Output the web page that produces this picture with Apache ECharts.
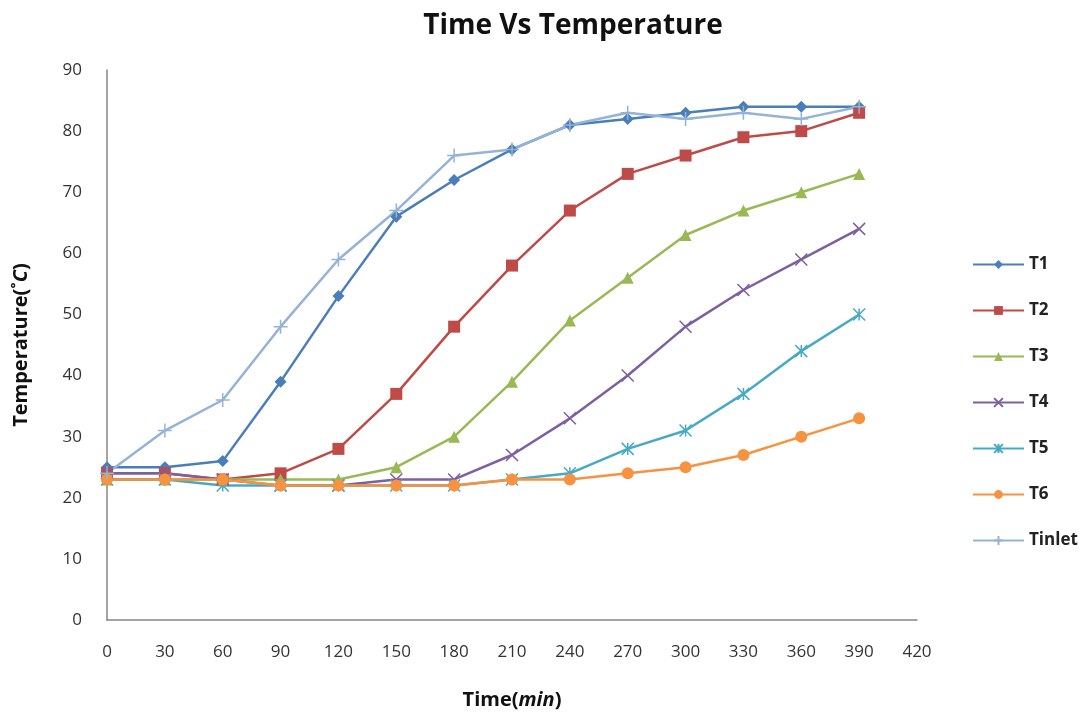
<!DOCTYPE html>
<html><head><meta charset="utf-8">
<script src="https://cdn.jsdelivr.net/npm/echarts@6/dist/echarts.min.js"></script>
<style>html,body{margin:0;padding:0;background:#fff}#c{width:1088px;height:715px}</style>
</head><body><div id="c"></div>
<script>
const times = [0,30,60,90,120,150,180,210,240,270,300,330,360,390];
const T1 = [25,25,26,39,53,66,72,77,81,82,83,84,84,84];
const T2 = [24,24,23,24,28,37,48,58,67,73,76,79,80,83];
const T3 = [23,23,23,23,23,25,30,39,49,56,63,67,70,73];
const T4 = [24,24,23,22,22,23,23,27,33,40,48,54,59,64];
const T5 = [23,23,22,22,22,22,22,23,24,28,31,37,44,50];
const T6 = [23,23,23,22,22,22,22,23,23,24,25,27,30,33];
const Tinlet = [24,31,36,48,59,67,76,77,81,83,82,83,82,84];
const seriesNames = ['T1','T2','T3','T4','T5','T6','Tinlet'];
const yTicks = {min:0,max:90,interval:10};
const xTicks = {min:0,max:420,interval:30};

const FONT = '"Open Sans", "DejaVu Sans", sans-serif';
const X_PATH = 'path://M0,0 L10,10 M10,0 L0,10';
const AST_PATH = 'path://M0,0 L10,10 M10,0 L0,10 M5,0 L5,10';
const PLUS_PATH = 'path://M5,0 L5,10 M0,5 L10,5';

const styles = [
  {color:'#4A7EBB', symbol:'diamond', size:12},
  {color:'#BE4B48', symbol:'rect', size:12},
  {color:'#98B954', symbol:'triangle', size:12},
  {color:'#7D60A0', symbol:X_PATH, size:12, stroke:true},
  {color:'#46AAC5', symbol:AST_PATH, size:12, stroke:true},
  {color:'#F69240', symbol:'circle', size:12},
  {color:'#95B3D7', symbol:PLUS_PATH, size:14, stroke:true}
];
const values = [T1,T2,T3,T4,T5,T6,Tinlet];

const series = seriesNames.map((n,i)=>{
  const s = styles[i];
  return {
    name:n, type:'line',
    data: times.map((t,j)=>[t, values[i][j]]),
    symbol: s.symbol, symbolSize: s.size,
    lineStyle:{color:s.color, width:2.5},
    itemStyle: s.stroke ? {color:'rgba(0,0,0,0)', borderColor:s.color, borderWidth:1.5}
                        : {color:s.color, borderColor:s.color, borderWidth:0},
    emphasis:{disabled:true},
    animation:false
  };
});

const chart = echarts.init(document.getElementById('c'));
chart.setOption({
  animation:false,
  color: styles.map(s=>s.color),
  title:{text:'Time Vs Temperature', left:568, textAlign:'center', top:7,
    textStyle:{fontFamily:FONT, fontWeight:'bold', fontSize:28, color:'#111'}},
  legend:{orient:'vertical', left:967, top:251, itemGap:29, itemWidth:51, itemHeight:11,
    textStyle:{fontFamily:FONT, fontSize:17, fontWeight:'bold', color:'#222'},
    data: seriesNames},
  grid:{left:107, right:171, top:70, bottom:94, containLabel:false},
  xAxis:{type:'value', min:xTicks.min, max:xTicks.max, interval:xTicks.interval,
    name:'{a|Time(}{b|min}{a|)}', nameLocation:'middle', nameGap:70,
    nameTextStyle:{rich:{a:{fontFamily:FONT,fontWeight:'bold',fontSize:20,color:'#111'},
                         b:{fontFamily:FONT,fontWeight:'bold',fontStyle:'italic',fontSize:20,color:'#111'}}},
    axisLine:{lineStyle:{color:'#868686', width:1.5}},
    axisTick:{show:false},
    splitLine:{show:false},
    axisLabel:{fontFamily:FONT, fontSize:17, color:'#333', margin:24}},
  yAxis:{type:'value', min:yTicks.min, max:yTicks.max, interval:yTicks.interval,
    name:'{a|Temperature(˚}{b|C}{a|)}', nameLocation:'middle', nameGap:76, nameRotate:90,
    nameTextStyle:{rich:{a:{fontFamily:FONT,fontWeight:'bold',fontSize:20,color:'#111'},
                         b:{fontFamily:FONT,fontWeight:'bold',fontStyle:'italic',fontSize:20,color:'#111'}}},
    axisLine:{show:true, lineStyle:{color:'#868686', width:1.5}},
    axisTick:{show:false},
    splitLine:{show:false},
    axisLabel:{fontFamily:FONT, fontSize:17, color:'#333', margin:25}},
  series: series
});
</script>
</body></html>
